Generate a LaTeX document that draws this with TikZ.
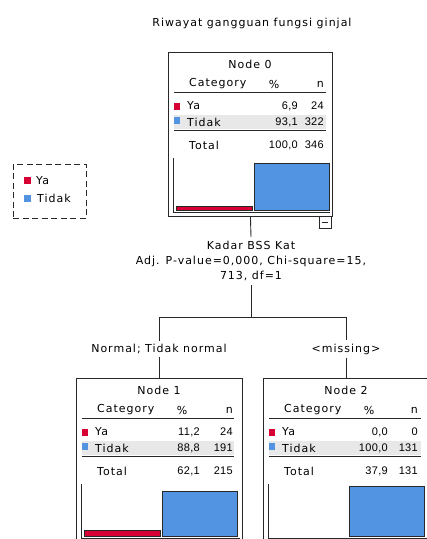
\documentclass[tikz,border=0pt]{standalone}
\usepackage{fontspec}
\setmainfont{DejaVu Sans}[LetterSpace=9]
\newfontfamily\numfont{Liberation Sans}[LetterSpace=3]
\definecolor{yared}{RGB}{214,0,52}
\definecolor{tdblue}{RGB}{83,148,226}
\definecolor{bandgray}{RGB}{232,232,232}
\definecolor{linegray}{RGB}{40,40,40}
\tikzset{
 txt/.style={font=\fontsize{11}{15}\selectfont, inner sep=0pt, text=black},
 lft/.style={txt, anchor=west},
 rgt/.style={txt, anchor=east},
 num/.style={anchor=east, inner sep=0pt, text=black, font=\fontsize{11}{15}\selectfont\numfont},
 boxst/.style={draw=linegray, line width=0.9pt, fill=white, inner sep=0pt},
 rulest/.style={draw=linegray, line width=0.9pt},
 thickrule/.style={draw=linegray, line width=1.2pt},
 framest/.style={draw=linegray, line width=0.9pt},
 redbar/.style={fill=yared, draw=linegray, line width=0.8pt},
 bluebar/.style={fill=tdblue, draw=linegray, line width=0.8pt},
 conn/.style={draw=linegray, line width=0.9pt},
 edgelab/.style={txt, fill=white, inner sep=3pt},
 togglest/.style={draw=linegray, line width=0.9pt, fill=white, minimum width=12pt, minimum height=12pt, inner sep=0pt},
 legendbox/.style={draw=linegray, dash pattern=on 6pt off 3.5pt, line width=0.9pt, minimum width=73pt, minimum height=54pt, inner sep=0pt}
}
% #1 name, #2 left, #3 top, #4 node number
\newcommand{\treebox}[4]{%
\begin{scope}[shift={(#2,#3)}]
 \node[boxst, minimum width=\bw*1pt, minimum height=164pt, anchor=north west] (#1) at (0,0) {};
 \node[txt] (#1-title) at (\bw/2,12) {Node #4};
 \node[lft] (#1-cat) at (21,32) {Category};
 \node[txt] (#1-pcth) at (106,32) {\%};
 \node[rgt] (#1-nh) at (\nc,32) {n};
 \draw[rulest] (6,40) -- (158,40);
 \fill[yared] (6,51) rectangle (12,58);
 \node[lft] (#1-ya) at (19,54) {Ya};
 \node[num] (#1-yap) at (\pc,54) {\yap};
 \node[num] (#1-yan) at (\nc,54) {\yan};
 \fill[bandgray] (6,63) rectangle (158,77);
 \fill[tdblue] (6,65) rectangle (12,72);
 \node[lft] (#1-td) at (19,70) {Tidak};
 \node[num] (#1-tdp) at (\pc,70) {\tdp};
 \node[num] (#1-tdn) at (\nc,70) {\tdn};
 \draw[thickrule] (6,78.5) -- (158,78.5);
 \node[lft] (#1-tot) at (21,93) {Total};
 \node[num] (#1-totp) at (\pc,93) {\totp};
 \node[num] (#1-totn) at (\nc,93) {\totn};
 \draw[framest] (5,106) -- (5,160) -- (\bw-2,160);
 \ifnum\hasred=1 \draw[redbar] (8,\rt) rectangle (84,158);\fi
 \draw[bluebar] (86,\btop) rectangle (161,158);
\end{scope}}
\begin{document}
\begin{tikzpicture}[x=1pt,y=-1pt]
\useasboundingbox (0,0) rectangle (427,539);
\clip (0,0) rectangle (427,539);
\fill[white] (0,0) rectangle (427,539);

\node[txt] (title) at (252,23) {Riwayat gangguan fungsi ginjal};

% legend
\node[legendbox, anchor=north west] (legend) at (13,164) {};
\fill[yared] (24,177) rectangle (31,184);
\node[lft] (leg-ya) at (36,181) {Ya};
\fill[tdblue] (24,195) rectangle (31,202);
\node[lft] (leg-td) at (37,198) {Tidak};

% Node 0
\def\bw{164}\def\pc{130}\def\nc{156}
\def\yap{6,9}\def\yan{24}\def\tdp{93,1}\def\tdn{322}\def\totp{100,0}\def\totn{346}
\def\hasred{1}\def\rt{154.5}\def\btop{111.4}
\treebox{n0}{168}{52}{0}
\node[togglest, anchor=north west] (n0-tog) at (319,216) {};
\draw[line width=0.9pt, draw=linegray] ([xshift=-3pt]n0-tog.center) -- ([xshift=3pt]n0-tog.center);

% Node 1
\def\bw{166}\def\pc{124}\def\nc{157}
\def\yap{11,2}\def\yan{24}\def\tdp{88,8}\def\tdn{191}\def\totp{62,1}\def\totn{215}
\def\hasred{1}\def\rt{152.4}\def\btop{113.6}
\treebox{n1}{76}{378}{1}

% Node 2
\def\bw{166}\def\pc{125}\def\nc{155}
\def\yap{0,0}\def\yan{0}\def\tdp{100,0}\def\tdn{131}\def\totp{37,9}\def\totn{131}
\def\hasred{0}\def\rt{158}\def\btop{108}
\treebox{n2}{263}{378}{2}

% split label and edges
\node[edgelab, align=center, inner sep=4pt] (lab0) at (251,261) {Kadar BSS Kat\\Adj. P-value=0,000, Chi-square=15,\\713, df=1};
\coordinate (split) at (251,317);
\node[edgelab] (lab1) at (159,349) {Normal; Tidak normal};
\node[edgelab] (lab2) at (346,349) {<missing>};

\draw[conn] (n0.south) -- (lab0.north);
\draw[conn] (lab0.south) -- (split);
\draw[conn] (lab1.north) -- (lab1.north |- split) -- (lab2.north |- split) -- (lab2.north);
\draw[conn] (lab1.south) -- (lab1.south |- n1.north);
\draw[conn] (lab2.south) -- (lab2.south |- n2.north);
\end{tikzpicture}
\end{document}
